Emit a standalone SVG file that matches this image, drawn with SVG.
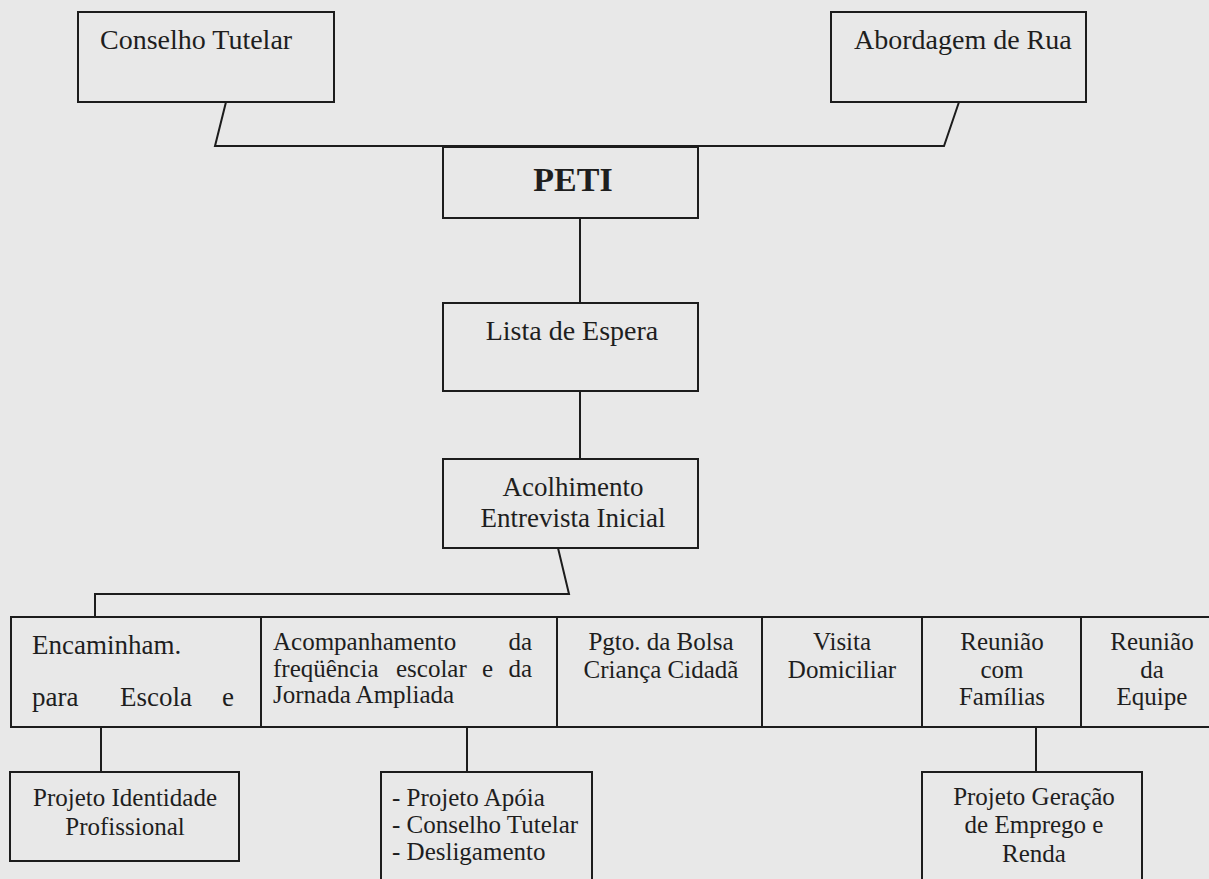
<svg xmlns="http://www.w3.org/2000/svg" width="1209" height="879" viewBox="0 0 1209 879">
<style>
.bx{fill:none;stroke:#1c1c1c;stroke-width:2}
.ln{fill:none;stroke:#1c1c1c;stroke-width:2}
text{font-family:"Liberation Serif","Times New Roman",serif;fill:#1e1e1e}
.t28{font-size:28px}
.t27{font-size:27px}
.t25{font-size:25px}
.c{text-anchor:middle}
.e{text-anchor:end}
</style>
<rect x="0" y="0" width="1209" height="879" fill="#e8e8e8"/>
<g id="connectors">
<polyline class="ln" points="226,102 215,146 944,146 959,102"/>
<line class="ln" x1="580" y1="218" x2="580" y2="303"/>
<line class="ln" x1="580" y1="391" x2="580" y2="459"/>
<polyline class="ln" points="558,548 569,594 95,594 95,617"/>
<line class="ln" x1="101" y1="727" x2="101" y2="772"/>
<line class="ln" x1="467" y1="727" x2="467" y2="772"/>
<line class="ln" x1="1036" y1="727" x2="1036" y2="772"/>
</g>
<g id="conselho-tutelar">
<rect class="bx" x="78" y="12" width="256" height="90"/>
<text class="t28" x="100" y="49">Conselho Tutelar</text>
</g>
<g id="abordagem-de-rua">
<rect class="bx" x="831" y="12" width="255" height="90"/>
<text class="t28" x="854" y="49">Abordagem de Rua</text>
</g>
<g id="peti">
<rect class="bx" x="443" y="147" width="255" height="71"/>
<text x="573" y="191" text-anchor="middle" style="font-size:34px;font-weight:bold">PETI</text>
</g>
<g id="lista-de-espera">
<rect class="bx" x="443" y="303" width="255" height="88"/>
<text class="t28 c" x="572" y="340">Lista de Espera</text>
</g>
<g id="acolhimento">
<rect class="bx" x="443" y="459" width="255" height="89"/>
<text class="t27 c" x="573" y="496">Acolhimento</text>
<text class="t27 c" x="573" y="527">Entrevista Inicial</text>
</g>
<g id="encaminhamento">
<rect class="bx" x="11" y="617" width="250" height="110"/>
<text class="t27" x="32" y="654">Encaminham.</text>
<text class="t27" x="32" y="706">para</text>
<text class="t27" x="120" y="706">Escola</text>
<text class="t27 e" x="234" y="706">e</text>
</g>
<g id="acompanhamento">
<rect class="bx" x="261" y="617" width="296" height="110"/>
<text class="t25" x="273" y="650">Acompanhamento</text>
<text class="t25 e" x="532" y="650">da</text>
<text class="t25" x="273" y="677">freqüência</text>
<text class="t25" x="396" y="677">escolar</text>
<text class="t25" x="482" y="677">e</text>
<text class="t25 e" x="532" y="677">da</text>
<text class="t25" x="273" y="703">Jornada Ampliada</text>
</g>
<g id="pgto-bolsa">
<rect class="bx" x="557" y="617" width="205" height="110"/>
<text class="t25 c" x="661" y="650">Pgto. da Bolsa</text>
<text class="t25 c" x="661" y="678">Criança Cidadã</text>
</g>
<g id="visita-domiciliar">
<rect class="bx" x="762" y="617" width="160" height="110"/>
<text class="t25 c" x="842" y="650">Visita</text>
<text class="t25 c" x="842" y="678">Domiciliar</text>
</g>
<g id="reuniao-familias">
<rect class="bx" x="922" y="617" width="159" height="110"/>
<text class="t25 c" x="1002" y="650">Reunião</text>
<text class="t25 c" x="1002" y="678">com</text>
<text class="t25 c" x="1002" y="705">Famílias</text>
</g>
<g id="reuniao-equipe">
<rect class="bx" x="1081" y="617" width="150" height="110"/>
<text class="t25 c" x="1152" y="650">Reunião</text>
<text class="t25 c" x="1152" y="678">da</text>
<text class="t25 c" x="1152" y="705">Equipe</text>
</g>
<g id="projeto-identidade">
<rect class="bx" x="10" y="772" width="229" height="89"/>
<text class="t25 c" x="125" y="806">Projeto Identidade</text>
<text class="t25 c" x="125" y="835">Profissional</text>
</g>
<g id="projeto-apoia">
<rect class="bx" x="381" y="772" width="211" height="120"/>
<text class="t25" x="392" y="806">- Projeto Apóia</text>
<text class="t25" x="392" y="833">- Conselho Tutelar</text>
<text class="t25" x="392" y="860">- Desligamento</text>
</g>
<g id="projeto-geracao">
<rect class="bx" x="922" y="772" width="220" height="120"/>
<text class="t25 c" x="1034" y="805">Projeto Geração</text>
<text class="t25 c" x="1034" y="833">de Emprego e</text>
<text class="t25 c" x="1034" y="862">Renda</text>
</g>
</svg>
